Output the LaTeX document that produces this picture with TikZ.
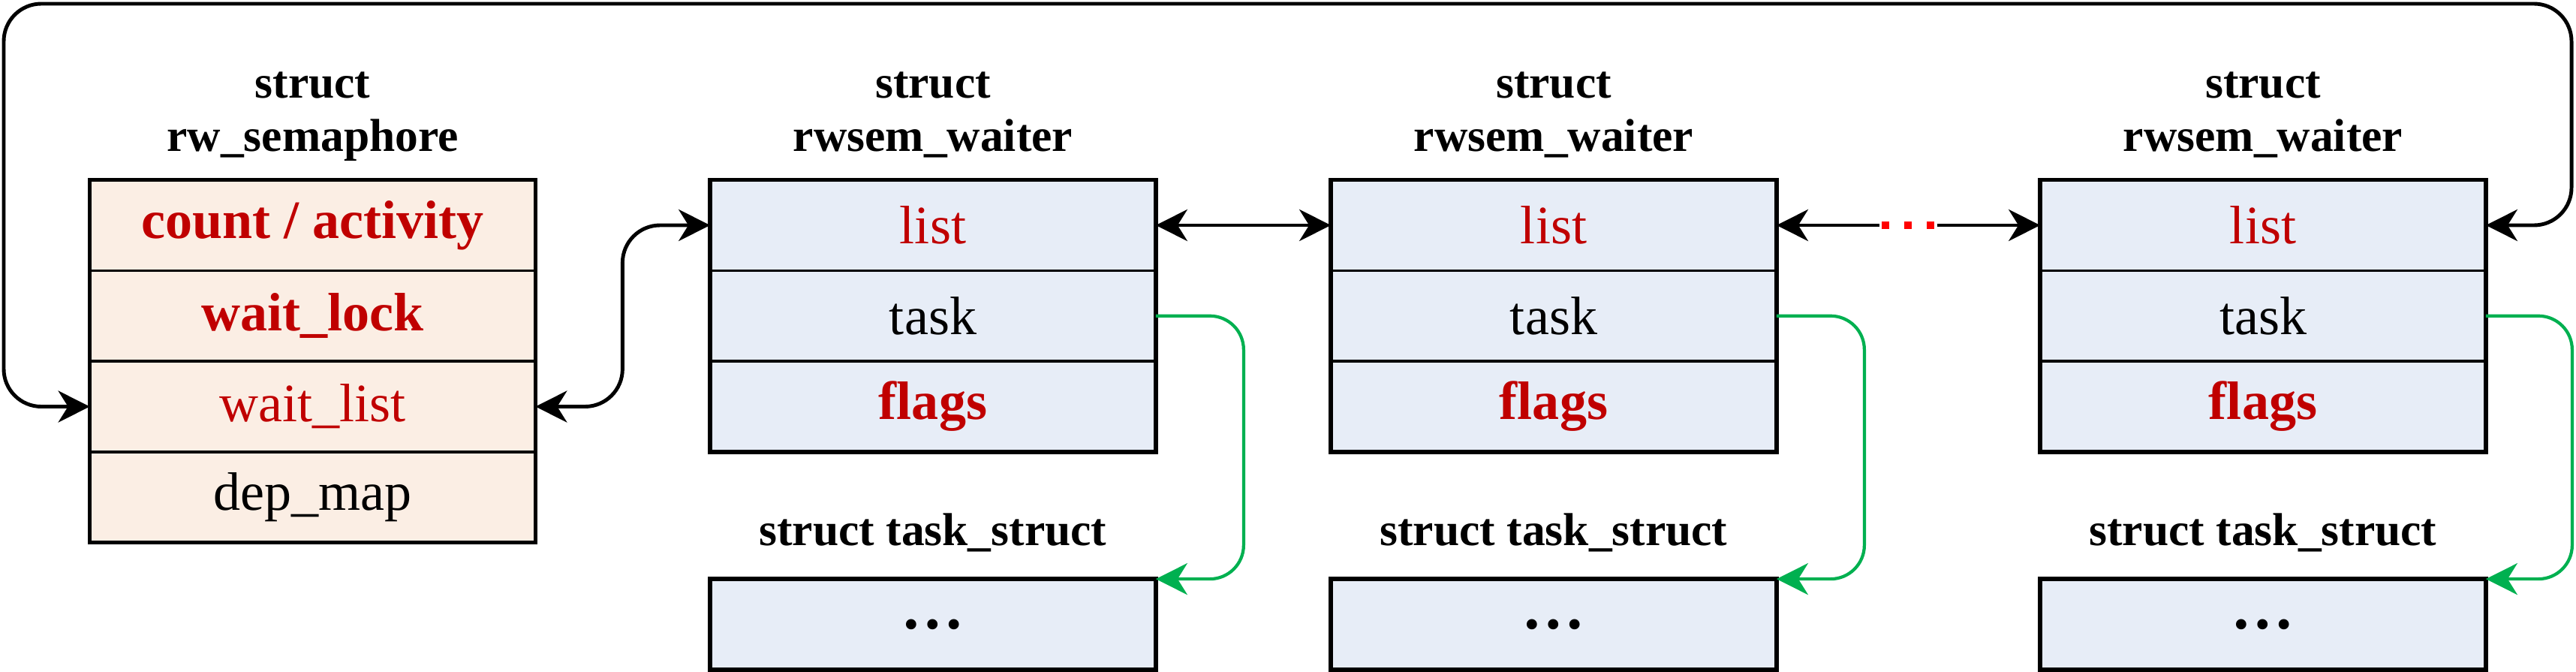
\documentclass[tikz,border=0pt]{standalone}
\usepackage{fontspec}
\setmainfont{Liberation Serif}
\usetikzlibrary{positioning,fit,arrows.meta}
\definecolor{semfill}{HTML}{FBEEE4}
\definecolor{waitfill}{HTML}{E7EDF7}
\definecolor{fieldred}{HTML}{C00000}
\definecolor{taskgreen}{HTML}{00B050}

\begin{document}
\begin{tikzpicture}[line width=1.4pt,>={Stealth[length=0.42cm,width=0.42cm,inset=0.13cm]}]
    % `field' is one row of a struct, `outline' the thick frame round its rows.
    % `link' joins the list heads, `tasklink' points at a task_struct.
    \tikzstyle{field} = [draw,line width=0.5pt,minimum width=5.92cm,minimum height=1.19cm,inner sep=0pt,font=\fontsize{20.5}{24}\selectfont]
    \tikzstyle{semfield} = [field,fill=semfill]
    \tikzstyle{waitfield} = [field,fill=waitfill]
    \tikzstyle{hot} = [text=fieldred]
    \tikzstyle{hotbold} = [text=fieldred,font=\fontsize{20.5}{24}\selectfont\bfseries]
    \tikzstyle{more} = [font=\fontsize{24}{28}\selectfont\bfseries]
    \tikzstyle{outline} = [draw,line width=1.6pt,inner sep=0pt]
    \tikzstyle{title} = [font=\fontsize{17.5}{20.2}\selectfont\bfseries,align=center,inner sep=0pt,text depth=0pt]
    \tikzstyle{link} = [<->,rounded corners=0.5cm]
    \tikzstyle{tasklink} = [->,draw=taskgreen,line width=1.2pt,rounded corners=0.45cm]
    %
    \useasboundingbox (0,0) rectangle (34.32,-8.95);
    % rw_semaphore
    \node[semfield,hotbold] (sem1) at (4.165,-3.0) {count / activity};
    \node[semfield,hotbold,below=0pt of sem1] (sem2) {wait\_lock};
    \node[semfield,hot,below=0pt of sem2] (sem3) {wait\_list};
    \node[semfield,below=0pt of sem3] (sem4) {dep\_map};
    \node[outline,fit=(sem1) (sem4)] (sem) {};
    \node[title,above=0.36cm of sem1] (semt) {struct\\rw\_semaphore};
    % waiters
    \node[waitfield,hot] (w1a) at (12.43,-3.0) {list};
    \node[waitfield,below=0pt of w1a] (w1b) {task};
    \node[waitfield,hotbold,below=0pt of w1b] (w1c) {flags};
    \node[outline,fit=(w1a) (w1c)] (w1) {};
    \node[title,above=0.36cm of w1a] (w1t) {struct\\rwsem\_waiter};

    \node[waitfield,hot] (w2a) at (20.70,-3.0) {list};
    \node[waitfield,below=0pt of w2a] (w2b) {task};
    \node[waitfield,hotbold,below=0pt of w2b] (w2c) {flags};
    \node[outline,fit=(w2a) (w2c)] (w2) {};
    \node[title,above=0.36cm of w2a] (w2t) {struct\\rwsem\_waiter};

    \node[waitfield,hot] (w3a) at (30.15,-3.0) {list};
    \node[waitfield,below=0pt of w3a] (w3b) {task};
    \node[waitfield,hotbold,below=0pt of w3b] (w3c) {flags};
    \node[outline,fit=(w3a) (w3c)] (w3) {};
    \node[title,above=0.36cm of w3a] (w3t) {struct\\rwsem\_waiter};
    % task_structs
    \node[waitfield,more] (t1) at (12.43,-8.315) {\dots};
    \node[outline,fit=(t1)] {};
    \node[title,above=0.42cm of t1] (t1t) {struct task\_struct};
    \node[waitfield,more] (t2) at (20.70,-8.315) {\dots};
    \node[outline,fit=(t2)] {};
    \node[title,above=0.42cm of t2] (t2t) {struct task\_struct};
    \node[waitfield,more] (t3) at (30.15,-8.315) {\dots};
    \node[outline,fit=(t3)] {};
    \node[title,above=0.42cm of t3] (t3t) {struct task\_struct};
    % list links
    \coordinate (lefttop) at (0.05,-0.05);
    \coordinate (righttop) at (34.26,-0.05);
    \draw[link] (sem3.west) -| (lefttop) -- (righttop) |- (w3a.east);
    \draw[link] (sem3.east) -- ++(1.16,0) |- (w1a.west);
    \draw[link] (w1a.east) -- (w2a.west);
    \path (w2a.east) -- node[minimum width=0.77cm,inner sep=0pt,outer sep=0pt] (gap) {} (w3a.west);
    \draw[<-] (w2a.east) -- (gap.west);
    \draw[->] (gap.east) -- (w3a.west);
    \draw[red,line width=2.8pt,dash pattern=on 0.1cm off 0.2cm] ([xshift=0.03cm]gap.west) -- ([xshift=-0.03cm]gap.east);
    % task pointers
    \draw[tasklink] (w1b.east) -- ++(1.17,0) |- (t1.north east);
    \draw[tasklink] (w2b.east) -- ++(1.17,0) |- (t2.north east);
    \draw[tasklink] (w3b.east) -- ++(1.15,0) |- (t3.north east);
\end{tikzpicture}
\end{document}
